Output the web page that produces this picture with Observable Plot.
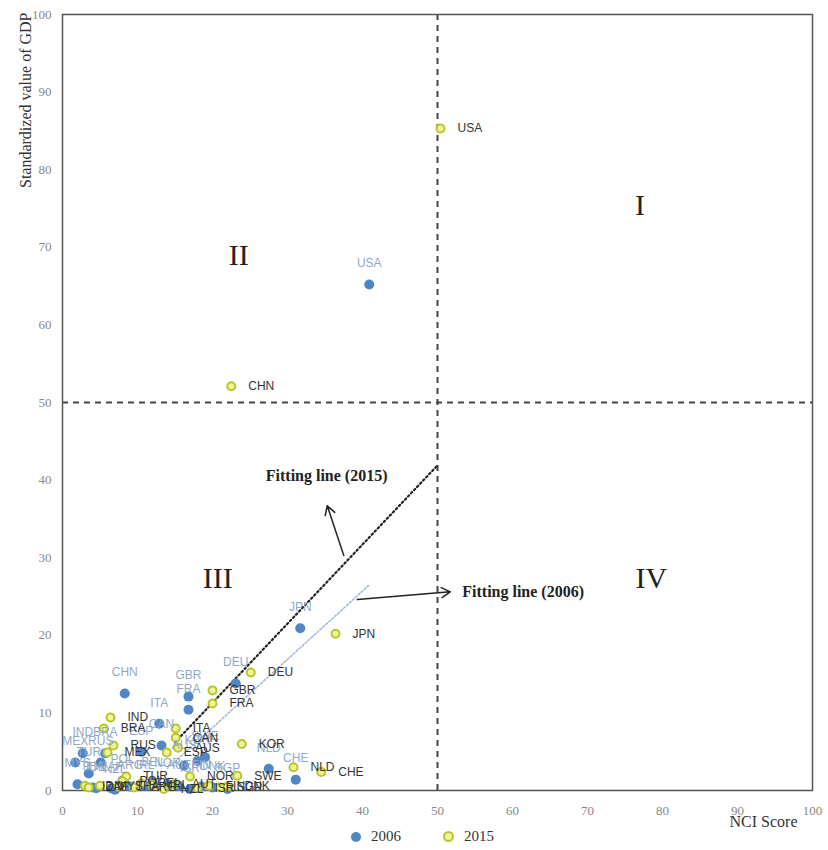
<!DOCTYPE html>
<html>
<head>
<meta charset="utf-8">
<script src="https://cdn.jsdelivr.net/npm/d3@7"></script>
<script src="https://cdn.jsdelivr.net/npm/@observablehq/plot@0.6"></script>
<style>
  body { margin: 0; background: #fff; }
  #wrap { position: relative; width: 828px; height: 850px; }
  #legend { position: absolute; left: 351px; top: 828px; font: 15px "Liberation Serif", serif; color: #333; display: flex; align-items: center; }
  #legend span.sw { display: inline-block; border-radius: 50%; margin-right: 10px; }
  g[aria-label="x-axis tick label"] text, g[aria-label="y-axis tick label"] text { font-size: 13px; }
</style>
</head>
<body>
<div id="wrap">
  <div id="chart"></div>
  <div id="legend">
    <span class="sw" style="width:10px;height:10px;background:#4f86c6"></span><span style="margin-right:42px">2006</span>
    <span class="sw" style="width:7px;height:7px;background:#eef39a;border:2px solid #b9c62b"></span><span>2015</span>
  </div>
</div>
<script>
// 2006 values (NCI score, standardized GDP)
const names06 = ["USA","JPN","CHN","GBR","FRA","DEU","ITA","IND","BRA","MEX","RUS","CAN","ESP","KOR","AUS","NLD","CHE","SWE","TUR","IDN","POL","BEL","NOR","AUT","DNK","FIN","IRL","SGP","MYS","THA","ZAF","ARG","ISR","NZL"];
const nci06   = [40.9,31.7,8.3,16.8,16.8,23.1,12.9,2.7,5.7,1.7,5.1,13.2,10.5,18.0,16.2,27.5,31.1,19.0,3.5,4.5,8.0,12.0,14.0,15.5,20.0,18.5,11.0,22.0,2.0,4.0,6.5,9.0,17.0,7.0];
const gdp06   = [65.2,20.9,12.5,12.1,10.4,13.8,8.6,4.8,4.8,3.6,3.6,5.8,5.0,3.8,3.2,2.8,1.4,4.3,2.2,0.3,1.3,1.0,0.8,0.6,0.4,0.5,0.6,0.2,0.8,0.4,0.3,0.5,0.2,0.1];

// 2015 values
const names15 = ["USA","CHN","JPN","DEU","GBR","FRA","KOR","NLD","CHE","SWE","IND","BRA","ITA","CAN","AUS","ESP","RUS","MEX","TUR","IDN","POL","BEL","NOR","AUT","DNK","FIN","IRL","SGP","MYS","THA","ZAF","ARG","ISR","NZL"];
const nci15   = [50.4,22.5,36.4,25.1,20.0,20.0,23.9,30.8,34.5,23.3,6.4,5.5,15.1,15.1,15.4,13.9,6.8,6.0,8.5,3.0,8.0,10.5,17.0,15.0,22.0,19.5,12.0,21.0,5.0,7.5,3.5,9.5,18.0,13.5];
const gdp15   = [85.3,52.1,20.2,15.2,12.9,11.2,6.0,3.0,2.4,1.9,9.4,8.0,8.0,6.8,5.5,4.9,5.8,4.9,1.8,0.6,1.2,0.9,1.8,0.8,0.5,0.6,0.7,0.4,0.6,0.5,0.4,0.4,0.3,0.2];

// fitting lines (endpoints)
const fit06X = [15, 40.8], fit06Y = [3.7, 26.4];
const fit15X = [15, 50],   fit15Y = [6.2, 41.9];

// quadrant labels
const quadText = ["I","II","III","IV"];
const quadX = [77, 23.5, 20.7, 78.5];
const quadY = [75.4, 69, 27.3, 27.3];

// annotations
const annText = ["Fitting line (2015)", "Fitting line (2006)"];
const annX = [27.1, 53.3], annY = [40.5, 25.6];
const arrX1 = [37.5, 39.3], arrY1 = [30.3, 24.6];
const arrX2 = [35.3, 51.7], arrY2 = [36.7, 25.6];

const ticks = [0,10,20,30,40,50,60,70,80,90,100];

const d06 = names06.map((n,i)=>({name:n, x:nci06[i], y:gdp06[i]}));
const d15 = names15.map((n,i)=>({name:n, x:nci15[i], y:gdp15[i]}));
const f06 = fit06X.map((x,i)=>({x, y:fit06Y[i]}));
const f15 = fit15X.map((x,i)=>({x, y:fit15Y[i]}));
const quads = quadText.map((t,i)=>({t, x:quadX[i], y:quadY[i]}));
const anns = annText.map((t,i)=>({t, x:annX[i], y:annY[i], x1:arrX1[i], y1:arrY1[i], x2:arrX2[i], y2:arrY2[i]}));

const serif = "'Liberation Serif', 'DejaVu Serif', serif";
const sans = "'Liberation Sans', Arial, sans-serif";

const chart = Plot.plot({
  width: 828, height: 830,
  marginLeft: 62, marginRight: 16, marginTop: 14, marginBottom: 40,
  style: {fontFamily: serif, fontSize: "13px", background: "#fff"},
  x: {domain: [0,100], ticks, label: null},
  y: {domain: [0,100], ticks, label: null},
  marks: [
    Plot.axisX({ticks, tickSize: 0, tickPadding: 15, color: "#888", fontSize: 13, label: null}),
    Plot.axisY({ticks, tickSize: 0, tickPadding: 11, color: "#888", fontSize: 13, label: null}),
    Plot.ruleX([50], {stroke: "#444", strokeWidth: 2, strokeDasharray: "6,5"}),
    Plot.ruleY([50], {stroke: "#444", strokeWidth: 2, strokeDasharray: "6,5"}),
    Plot.frame({stroke: "#555", strokeWidth: 1.5}),
    Plot.line(f06, {x: "x", y: "y", stroke: "#9fb6d3", strokeWidth: 1.5, strokeDasharray: "2,2"}),
    Plot.line(f15, {x: "x", y: "y", stroke: "#222", strokeWidth: 2.2, strokeDasharray: "1.6,2.8"}),
    Plot.dot(d06, {x: "x", y: "y", r: 5, fill: "#4f86c6"}),
    Plot.dot(d15, {x: "x", y: "y", r: 4, fill: "#eef39a", stroke: "#b9c62b", strokeWidth: 2}),
    Plot.text(d06, {x: "x", y: "y", text: "name", dy: -21, fill: "#8fa8c8", fontFamily: sans, fontSize: 12}),
    Plot.text(d15, {x: "x", y: "y", text: "name", dx: 17, textAnchor: "start", fill: "#333", fontFamily: sans, fontSize: 12}),
    Plot.text(quads, {x: "x", y: "y", text: "t", fontFamily: serif, fontSize: 30, fill: "#222"}),
    Plot.arrow(anns, {x1: "x1", y1: "y1", x2: "x2", y2: "y2", stroke: "#222", strokeWidth: 1.5, headLength: 10}),
    Plot.text(anns, {x: "x", y: "y", text: "t", textAnchor: "start", fontFamily: serif, fontWeight: "bold", fontSize: 16, fill: "#222"}),
    Plot.text(["Standardized value of GDP"], {frameAnchor: "top-left", rotate: -90, textAnchor: "end", dx: -43, dy: -2, fontFamily: serif, fontSize: 16, fill: "#333"}),
    Plot.text(["NCI Score"], {frameAnchor: "bottom-right", textAnchor: "middle", dx: -49, dy: 36, fontFamily: serif, fontSize: 16, fill: "#333"})
  ]
});
document.getElementById("chart").appendChild(chart);
</script>
</body>
</html>
